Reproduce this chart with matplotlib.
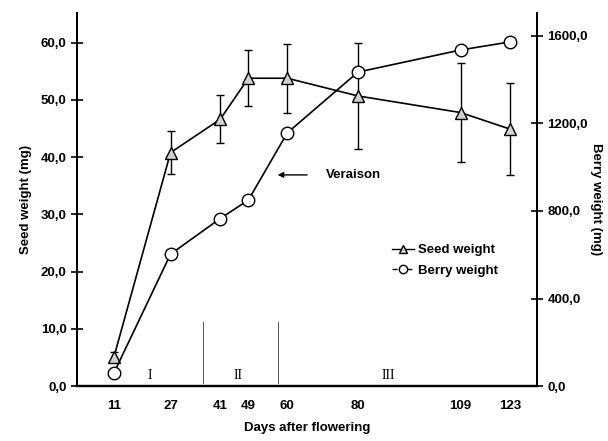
import matplotlib
matplotlib.use('Agg')
import matplotlib.pyplot as plt
from matplotlib.lines import Line2D

plt.rcParams['font.family'] = ['Liberation Sans', 'DejaVu Sans']
plt.rcParams['font.weight'] = 'bold'

# Days after flowering
days = [11, 27, 41, 49, 60, 80, 109, 123]
# Seed weight (mg) with standard deviation
seed_weight = [5.1, 40.8, 46.6, 53.8, 53.8, 50.7, 47.8, 44.9]
seed_err = [0.8, 3.7, 4.2, 4.9, 6.0, 9.2, 8.7, 8.1]
# Berry weight (mg)
berry_weight = [60, 603, 765, 850, 1157, 1435, 1536, 1573]

left_ticks = [0, 10, 20, 30, 40, 50, 60]
right_ticks = [0, 400, 800, 1200, 1600]

# growth stage boundaries (days) and stage labels
stage_bounds = [36.2, 57.4]
stage_labels = ['I', 'II', 'III']
stage_pos = [21.2, 46.0, 88.5]

fs = 9.5

fig = plt.figure(figsize=(6.08, 4.41), dpi=100)
ax = fig.add_axes([0.1266, 0.1247, 0.7566, 0.8458])
ax2 = ax.twinx()

# Seed weight on left axis
ax.errorbar(days, seed_weight, yerr=seed_err, color='black', linewidth=1.2,
            elinewidth=1.0, capsize=3, capthick=1.0,
            marker='^', markersize=9, markerfacecolor='#d0d0d0',
            markeredgecolor='black', markeredgewidth=1.0, zorder=3)

# Berry weight on right axis
ax2.plot(days, berry_weight, color='black', linewidth=1.2, marker='o',
         markersize=9, markerfacecolor='white', markeredgecolor='black',
         markeredgewidth=1.0, zorder=3)

ax.set_xlim(0.54, 130.6)
ax.set_ylim(0, 65.2)
ax2.set_ylim(0, 1705)

ax.set_xticks(days)
ax.set_xticklabels([str(d) for d in days])
ax.set_yticks(left_ticks)
ax.set_yticklabels([('%.1f' % v).replace('.', ',') for v in left_ticks])
ax2.set_yticks(right_ticks)
ax2.set_yticklabels([('%.1f' % v).replace('.', ',') for v in right_ticks])

for a in (ax, ax2):
    a.spines['top'].set_visible(False)
    a.spines['left'].set_linewidth(1.3)
    a.spines['right'].set_linewidth(1.3)
    a.spines['bottom'].set_linewidth(1.6)
ax.tick_params(axis='x', length=0, pad=10, labelsize=fs)
ax.tick_params(axis='y', direction='inout', length=8, width=1.2, labelsize=fs)
ax2.tick_params(axis='y', direction='inout', length=8, width=1.2, labelsize=fs)

ax.set_ylabel('Seed weight (mg)', fontsize=fs, fontweight='bold', labelpad=6)
ax2.set_ylabel('Berry weight (mg)', fontsize=fs, fontweight='bold',
               rotation=270, labelpad=10)
ax.set_xlabel('Days after flowering', fontsize=fs, fontweight='bold', labelpad=7)

# growth stage separators and labels
for b in stage_bounds:
    ax.plot([b, b], [0.5, 11.2], color='#333333', linewidth=0.6)
for lab, p in zip(stage_labels, stage_pos):
    ax.text(p, 1.9, lab, ha='center', va='center', fontsize=10,
            family='Liberation Serif', fontweight='normal')

# Veraison annotation
ax.annotate('', xy=(56.5, 36.9), xytext=(66.4, 36.9),
            arrowprops=dict(arrowstyle='-|>', color='black', lw=1.0,
                            mutation_scale=8))
ax.text(71, 36.9, 'Veraison', ha='left', va='center', fontsize=fs,
        fontweight='bold')

handles = [Line2D([], [], color='black', marker='^', markersize=6,
                  markerfacecolor='#d0d0d0', linewidth=1.0),
           Line2D([], [], color='black', marker='o', markersize=6,
                  markerfacecolor='white', linewidth=1.0, linestyle='--')]
ax.legend(handles, ['Seed weight', 'Berry weight'], loc='upper left',
          bbox_to_anchor=(0.66, 0.412), frameon=False, fontsize=fs,
          handlelength=1.6, handletextpad=0.3, labelspacing=0.6)

plt.savefig('out.png', dpi=100)
